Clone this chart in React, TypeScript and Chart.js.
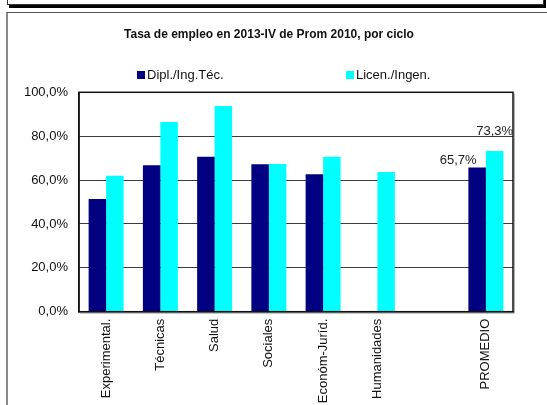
import React, { useEffect, useRef } from "react";
import { Chart, registerables } from "chart.js";

Chart.register(...registerables);

const categories = [
  "Experimental.",
  "Técnicas",
  "Salud",
  "Sociales",
  "Económ-Juríd.",
  "Humanidades",
  "",
  "PROMEDIO",
];
const diplValues: (number | null)[] = [51.4, 66.7, 70.6, 67.2, 62.6, null, null, 65.7];
const licenValues: (number | null)[] = [62.0, 86.5, 93.8, 67.3, 70.6, 63.7, null, 73.3];
const seriesNames = ["Dipl./Ing.Téc.", "Licen./Ingen."];
const seriesColors = ["#000080", "#00FFFF"];
const yTicks = [0, 20, 40, 60, 80, 100];
const labeledIndex = 7;
const titleText = "Tasa de empleo en 2013-IV de Prom 2010, por ciclo";

const FONT = "Arial, 'Liberation Sans', sans-serif";

const fmt = (v: number) => v.toFixed(1).replace(".", ",") + "%";

export default function App() {
  const ref = useRef<HTMLCanvasElement | null>(null);

  useEffect(() => {
    if (!ref.current) return;

    const framePlugin = {
      id: "framePlugin",
      afterDraw(chart: any) {
        const { ctx, chartArea } = chart;
        ctx.save();
        // plot border shadow
        ctx.strokeStyle = "#b0b0b0";
        ctx.lineWidth = 1;
        ctx.beginPath();
        ctx.moveTo(chartArea.right + 1.5, chartArea.top + 1);
        ctx.lineTo(chartArea.right + 1.5, chartArea.bottom + 1.5);
        ctx.lineTo(chartArea.left + 1, chartArea.bottom + 1.5);
        ctx.stroke();
        ctx.strokeStyle = "#111";
        ctx.lineWidth = 1.5;
        ctx.strokeRect(
          chartArea.left,
          chartArea.top,
          chartArea.right - chartArea.left,
          chartArea.bottom - chartArea.top
        );
        // title
        ctx.font = `bold 12px ${FONT}`;
        ctx.textBaseline = "middle";
        ctx.textAlign = "center";
        ctx.fillStyle = "#111";
        ctx.fillText(titleText, 269, 35);
        // custom legend
        ctx.font = `13px ${FONT}`;
        ctx.textAlign = "left";
        const legendX = [137, 346];
        const legendY = 75;
        seriesNames.forEach((name, i) => {
          ctx.fillStyle = seriesColors[i];
          ctx.fillRect(legendX[i], legendY - 4, 8, 8);
          ctx.fillStyle = "#111";
          ctx.fillText(name, legendX[i] + 10, legendY);
        });
        // value labels for PROMEDIO
        ctx.textAlign = "center";
        const offsets = [
          { dx: -19, dy: -7 },
          { dx: 0, dy: -19 },
        ];
        [diplValues, licenValues].forEach((vals, di) => {
          const v = vals[labeledIndex];
          if (v == null) return;
          const el = chart.getDatasetMeta(di).data[labeledIndex];
          ctx.fillStyle = "#222";
          ctx.fillText(fmt(v), el.x + offsets[di].dx, el.y + offsets[di].dy);
        });
        ctx.restore();
      },
    };

    const chart = new Chart(ref.current, {
      type: "bar",
      data: {
        labels: categories,
        datasets: [
          {
            label: seriesNames[0],
            data: diplValues,
            backgroundColor: seriesColors[0],
            borderWidth: 0,
          },
          {
            label: seriesNames[1],
            data: licenValues,
            backgroundColor: seriesColors[1],
            borderWidth: 0,
          },
        ],
      },
      options: {
        animation: false,
        responsive: false,
        maintainAspectRatio: false,
        layout: { padding: { left: 0, right: 34, top: 92.3, bottom: 0 } },
        datasets: {
          bar: { categoryPercentage: 0.645, barPercentage: 1 },
        },
        plugins: {
          legend: { display: false },
          tooltip: { enabled: false },
          title: { display: false },
        },
        scales: {
          x: {
            grid: { display: false, drawTicks: false },
            border: { display: true, color: "#111", width: 1.5 },
            ticks: {
              color: "#111",
              font: { family: FONT, size: 13 },
              minRotation: 90,
              maxRotation: 90,
              autoSkip: false,
              padding: 7,
            },
            afterFit(scale: any) {
              scale.height = 93.3;
            },
          },
          y: {
            min: 0,
            max: 100,
            afterBuildTicks(scale: any) {
              scale.ticks = yTicks.map((v) => ({ value: v }));
            },
            grid: { color: "#3a3a3a", lineWidth: 1, drawTicks: false },
            border: { display: true, color: "#111", width: 1.5 },
            ticks: {
              color: "#111",
              font: { family: FONT, size: 13 },
              padding: 11,
              callback: (v: any) => fmt(Number(v)),
            },
            afterFit(scale: any) {
              scale.width = 79;
            },
          },
        },
      },
      plugins: [framePlugin],
    });

    return () => chart.destroy();
  }, []);

  return (
    <div
      style={{
        position: "fixed",
        left: 0,
        top: 0,
        width: 547,
        height: 405,
        background: "#fff",
        overflow: "hidden",
      }}
    >
      <div
        style={{
          position: "absolute",
          left: 7,
          top: -10,
          width: 535,
          height: 13,
          border: "1px solid #333",
          boxShadow: "2px 3px 0 #000",
          background: "#fff",
        }}
      />
      <div
        style={{
          position: "absolute",
          left: 6,
          top: 12,
          width: 700,
          height: 600,
          borderTop: "1px solid #555",
          borderLeft: "2px solid #888",
        }}
      />
      <canvas
        ref={ref}
        width={547}
        height={405}
        style={{ position: "absolute", left: 0, top: 0, width: 547, height: 405 }}
      />
    </div>
  );
}
